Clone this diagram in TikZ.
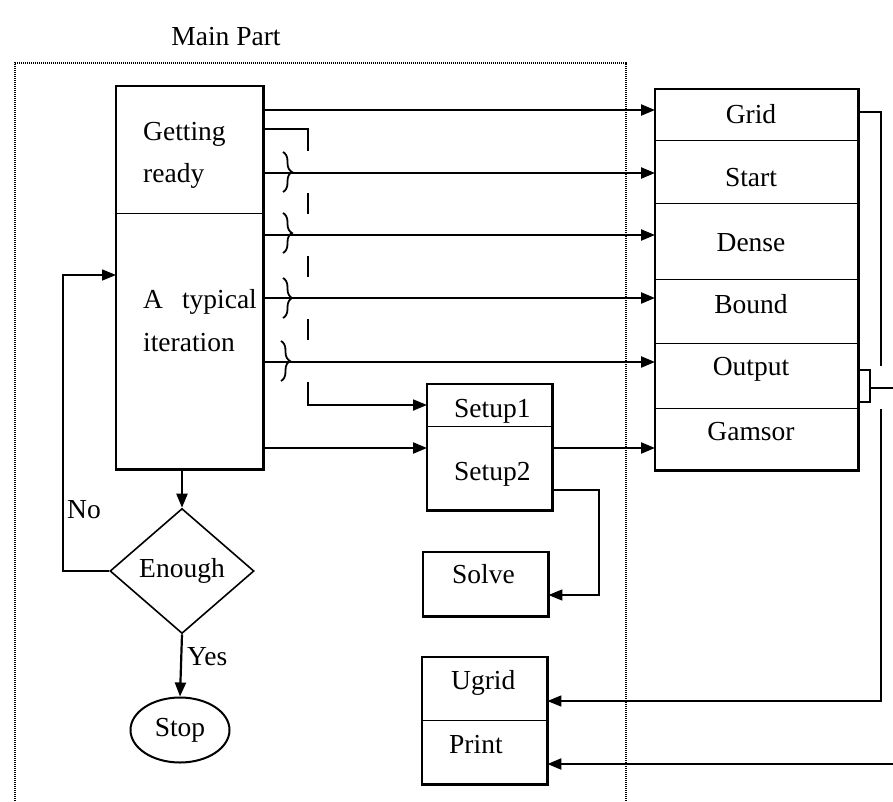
\documentclass[tikz,border=0pt]{standalone}
\usepackage{fontspec}
\setmainfont{Liberation Serif}
\usetikzlibrary{arrows.meta,shapes.geometric,decorations.pathreplacing}
\begin{document}
\begin{tikzpicture}[x=1pt,y=-1pt,
  font=\fontsize{27.5pt}{43pt}\selectfont,
  boxcell/.style={draw, line width=1.4pt, inner sep=0pt, anchor=north west},
  bigframe/.style={draw, line width=2.4pt},
  lbl/.style={inner sep=0pt, anchor=base},
  lbll/.style={inner sep=0pt, anchor=base west},
  arrtip/.style={-{Triangle[length=14pt,width=11pt]}},
  arr/.style={arrtip, line width=2.2pt},
  tarr/.style={arrtip, line width=1.5pt},
  thinline/.style={line width=1.4pt},
  brc/.style={line width=1.8pt, decorate, decoration={brace, amplitude=9pt}},
  dotframe/.style={line width=1.8pt, dash pattern=on 1.2pt off 0.8pt},
]
\fill[white] (0,0) rectangle (893,801);
\useasboundingbox (0,0) rectangle (893,801);

% title and dotted frame
\node[lbl] (title) at (226,45) {Main Part};
\draw[dotframe] (15,801) -- (15,63) -- (626,63) -- (626,801);

% main box
\node[boxcell, minimum width=146pt, minimum height=127pt] (getready) at (116,86) {};
\node[boxcell, minimum width=146pt, minimum height=255pt] (iter) at (116,213) {};
\draw[bigframe] (getready.north west) rectangle (iter.south east);
\node[lbll] (tgetting) at (143,140) {Getting};
\node[lbll] (tready) at (143,182) {ready};
\node[lbll] (ttypical) at (143,308) {A\hspace{19pt}typical};
\node[lbll] (titer) at (143,351) {iteration};

% right stack
\node[boxcell, minimum width=202pt, minimum height=51pt] (grid) at (655,89) {};
\node[boxcell, minimum width=202pt, minimum height=63pt] (start) at (655,140) {};
\node[boxcell, minimum width=202pt, minimum height=76pt] (dense) at (655,203) {};
\node[boxcell, minimum width=202pt, minimum height=64pt] (bound) at (655,279) {};
\node[boxcell, minimum width=202pt, minimum height=65pt] (output) at (655,343) {};
\node[boxcell, minimum width=202pt, minimum height=61pt] (gamsor) at (655,408) {};
\draw[bigframe] (grid.north west) rectangle (gamsor.south east);
\node[lbl] (tgrid) at (751,123) {Grid};
\node[lbl] (tstart) at (751,186) {Start};
\node[lbl] (tdense) at (751,251) {Dense};
\node[lbl] (tbound) at (751,313) {Bound};
\node[lbl] (toutput) at (751,375) {Output};
\node[lbl] (tgamsor) at (751,440) {Gamsor};

% setup boxes
\node[boxcell, minimum width=124pt, minimum height=42pt] (setup1) at (427,384) {};
\node[boxcell, minimum width=124pt, minimum height=83pt] (setup2) at (427,426) {};
\draw[bigframe] (setup1.north west) rectangle (setup2.south east);
\node[lbll] (tsetup1) at (454,417) {Setup1};
\node[lbll] (tsetup2) at (454,480) {Setup2};

% solve
\node[boxcell, minimum width=124pt, minimum height=63pt] (solve) at (423,552) {};
\draw[bigframe] (solve.north west) rectangle (solve.south east);
\node[lbll] (tsolve) at (452,583) {Solve};

% ugrid / print
\node[boxcell, minimum width=124pt, minimum height=63pt] (ugrid) at (422,657) {};
\node[boxcell, minimum width=124pt, minimum height=63pt] (print) at (422,720) {};
\draw[bigframe] (ugrid.north west) rectangle (print.south east);
\node[lbll] (tugrid) at (451,689) {Ugrid};
\node[lbll] (tprint) at (449,753) {Print};

% decision and stop
\node[draw, diamond, line width=1.6pt, minimum width=144pt, minimum height=125pt, inner sep=0pt] (enough) at (182,571) {Enough};
\node[draw, ellipse, line width=2pt, minimum width=99pt, minimum height=65pt, inner sep=0pt] (stop) at (180,730) {Stop};

% arrows from main box to the right stack
\coordinate (yGrid) at (0,110);
\coordinate (yStart) at (0,173);
\coordinate (yDense) at (0,235);
\coordinate (yBound) at (0,298);
\coordinate (yOut) at (0,362);
\coordinate (ySetTwo) at (0,448);
\draw[arr] (getready.east |- yGrid) -- (grid.west |- yGrid);
\draw[arr] (getready.east |- yStart) -- (start.west |- yStart);
\draw[arr] (iter.east |- yDense) -- (dense.west |- yDense);
\draw[arr] (iter.east |- yBound) -- (bound.west |- yBound);
\draw[arr] (iter.east |- yOut) -- (output.west |- yOut);
\draw[arr] (iter.east |- ySetTwo) -- (setup2.west |- ySetTwo);
\draw[arr] (setup2.east |- ySetTwo) -- (gamsor.west |- ySetTwo);

% dashed connector to Setup1
\coordinate (dA) at (308,129);
\coordinate (dB) at (308,405);
\draw[arrtip, line width=1.8pt, dash pattern=on 67pt off 42pt on 21pt off 42pt on 21pt off 42pt on 21pt off 42pt on 400pt]
  (getready.east |- dA) -- (dA) -- (dB) -- (setup1.west |- dB);

% braces
\draw[brc] (283,152) -- (283,192);
\draw[brc] (283,213) -- (283,253);
\draw[brc] (283,278) -- (283,318);
\draw[brc] (281,341) -- (281,381);

% Setup2 to Solve
\coordinate (sA) at (599,490);
\coordinate (sB) at (599,595);
\draw[tarr] (setup2.east |- sA) -- (sA) -- (sB) -- (solve.east |- sB);

% Grid to Ugrid (with crossing gap)
\coordinate (gA) at (881,112);
\coordinate (gB) at (881,366);
\coordinate (gC) at (881,409);
\coordinate (gD) at (881,701);
\draw[tarr] (grid.east |- gA) -- (gA) -- (gB) (gC) -- (gD) -- (ugrid.east |- gD);

% Output bracket and line
\coordinate (oA) at (870,370);
\coordinate (oB) at (870,402);
\coordinate (oM) at (870,388);
\coordinate (oR) at (893,388);
\draw[thinline] (output.east |- oA) -- (oA) -- (oB) -- (output.east |- oB);
\draw[thinline] (oM) -- (oR);

% into Print
\coordinate (pR) at (893,764);
\draw[arr] (pR) -- (print.east |- pR);

% flow on the left
\coordinate (lA) at (63,571);
\coordinate (lB) at (63,275);
\draw[tarr] (enough.west) -- (lA) -- (lB) -- (iter.west |- lB);
\draw[arr] (iter.south -| enough.north) -- (enough.north);
\draw[arr] (enough.south) -- (stop.north);
\node[lbll] (no) at (67,518) {No};
\node[lbll] (yes) at (187,665) {Yes};
\end{tikzpicture}
\end{document}
